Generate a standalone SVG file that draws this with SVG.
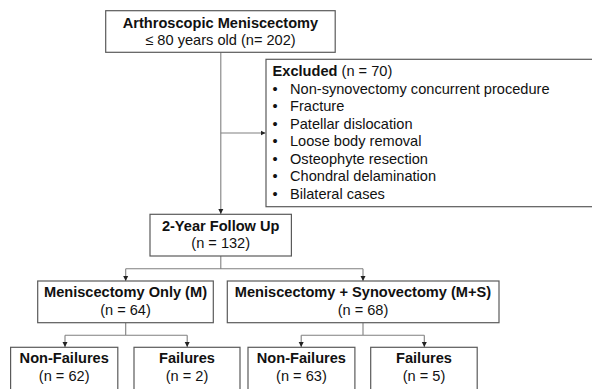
<svg xmlns="http://www.w3.org/2000/svg" width="592" height="389" viewBox="0 0 592 389">
<defs>
<marker id="arr" markerWidth="6" markerHeight="6" refX="5" refY="3" orient="auto" markerUnits="userSpaceOnUse">
<path d="M0,0.5 L5,3 L0,5.5 Z" fill="#222"/>
</marker>
<style>
.box{fill:#fff;stroke:#5a5a5a;stroke-width:1.2}
.t{font-family:"Liberation Sans",Arial,Helvetica,sans-serif;font-size:14.6px;fill:#111}
.b{font-weight:bold}
.c{text-anchor:middle}
.ln{fill:none;stroke:#808080;stroke-width:1.1}
.ar{fill:none;stroke:#808080;stroke-width:1.1;marker-end:url(#arr)}
</style>
</defs>
<rect width="592" height="389" fill="#fff"/>
<g id="connectors">
<path class="ar" d="M220.8,52.3 V214"/>
<path class="ar" d="M220.8,133 H265.5"/>
<path class="ln" d="M220.8,256 V268.7 M125.7,268.7 H363"/>
<path class="ar" d="M125.7,268.7 V281"/>
<path class="ar" d="M363,268.7 V281"/>
<path class="ln" d="M125.7,322.7 V335.3 M65,335.3 H187.2"/>
<path class="ar" d="M65,335.3 V347"/>
<path class="ar" d="M187.2,335.3 V347"/>
<path class="ln" d="M363,322.7 V335.3 M301.2,335.3 H424.3"/>
<path class="ar" d="M301.2,335.3 V347"/>
<path class="ar" d="M424.3,335.3 V347"/>
</g>
<g id="n-start">
<rect class="box" x="105.7" y="10.7" width="229.5" height="41.6"/>
<text class="t b c" x="220.5" y="27.7">Arthroscopic Meniscectomy</text>
<text class="t c" x="220.5" y="45">≤ 80 years old (n= 202)</text>
</g>
<g id="n-excluded">
<rect class="box" x="266" y="59.3" width="340" height="147.4"/>
<text class="t" x="272.6" y="76"><tspan class="b">Excluded</tspan> (n = 70)</text>
<g class="t">
<text x="272.6" y="93.5">•</text><text x="290" y="93.5">Non-synovectomy concurrent procedure</text>
<text x="272.6" y="111">•</text><text x="290" y="111">Fracture</text>
<text x="272.6" y="128.5">•</text><text x="290" y="128.5">Patellar dislocation</text>
<text x="272.6" y="146">•</text><text x="290" y="146">Loose body removal</text>
<text x="272.6" y="163.5">•</text><text x="290" y="163.5">Osteophyte resection</text>
<text x="272.6" y="181">•</text><text x="290" y="181">Chondral delamination</text>
<text x="272.6" y="198.5">•</text><text x="290" y="198.5">Bilateral cases</text>
</g>
</g>
<g id="n-followup">
<rect class="box" x="150" y="214.3" width="141.4" height="41.7"/>
<text class="t b c" x="220.7" y="230.5">2-Year Follow Up</text>
<text class="t c" x="220.7" y="248.3">(n = 132)</text>
</g>
<g id="n-m">
<rect class="box" x="37.7" y="281" width="175.6" height="41.7"/>
<text class="t b c" x="125.5" y="297.3">Meniscectomy Only (M)</text>
<text class="t c" x="125.5" y="315">(n = 64)</text>
</g>
<g id="n-ms">
<rect class="box" x="227.3" y="281" width="271.7" height="41.7"/>
<text class="t b c" x="363" y="297.3">Meniscectomy + Synovectomy (M+S)</text>
<text class="t c" x="363" y="315">(n = 68)</text>
</g>
<g id="n-m-nf">
<rect class="box" x="10.6" y="347.3" width="107.2" height="50"/>
<text class="t b c" x="64.2" y="363.3">Non-Failures</text>
<text class="t c" x="64.2" y="381">(n = 62)</text>
</g>
<g id="n-m-f">
<rect class="box" x="134" y="347.3" width="106" height="50"/>
<text class="t b c" x="187" y="363.3">Failures</text>
<text class="t c" x="187" y="381">(n = 2)</text>
</g>
<g id="n-ms-nf">
<rect class="box" x="248" y="347.3" width="106.9" height="50"/>
<text class="t b c" x="301.4" y="363.3">Non-Failures</text>
<text class="t c" x="301.4" y="381">(n = 63)</text>
</g>
<g id="n-ms-f">
<rect class="box" x="370.7" y="347.3" width="106.5" height="50"/>
<text class="t b c" x="424" y="363.3">Failures</text>
<text class="t c" x="424" y="381">(n = 5)</text>
</g>
</svg>
